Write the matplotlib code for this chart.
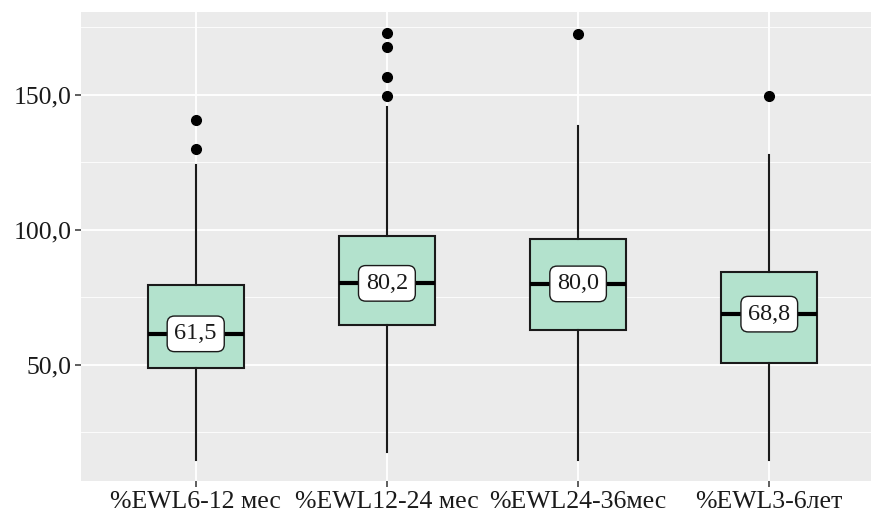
import matplotlib
matplotlib.use("Agg")
import matplotlib.pyplot as plt
from matplotlib.ticker import MultipleLocator, FuncFormatter

categories = ["%EWL6-12 мес", "%EWL12-24 мес", "%EWL24-36мес", "%EWL3-6лет"]
q1_vals = [48.9, 64.8, 63.0, 50.7]
median_vals = [61.5, 80.2, 80.0, 68.8]
q3_vals = [79.6, 97.8, 96.7, 84.4]
whisker_low = [14.8, 17.9, 14.8, 14.8]
whisker_high = [124.1, 145.6, 138.5, 127.8]
outliers = [[140.7, 130.0], [173.0, 167.8, 156.6, 149.6], [172.6], [149.6]]
median_labels = ["61,5", "80,2", "80,0", "68,8"]

plt.rcParams['font.family'] = ['Liberation Serif', 'DejaVu Serif']

fig = plt.figure(figsize=(8.71, 5.15), dpi=100)
ax = fig.add_axes([81/871, 1-481/515, 803/871, 469/515])
ax.set_facecolor('#EBEBEB')

stats = []
for i in range(len(categories)):
    stats.append(dict(med=median_vals[i], q1=q1_vals[i], q3=q3_vals[i],
                      whislo=whisker_low[i], whishi=whisker_high[i],
                      fliers=outliers[i], label=categories[i]))

positions = list(range(1, len(categories) + 1))
ax.bxp(stats, positions=positions, widths=0.5, patch_artist=True, showcaps=False,
       boxprops=dict(facecolor='#B3E2CD', edgecolor='#1a1a1a', linewidth=1.5),
       medianprops=dict(color='black', linewidth=3),
       whiskerprops=dict(color='#1a1a1a', linewidth=1.5),
       flierprops=dict(marker='o', markerfacecolor='black', markeredgecolor='black',
                       markersize=7),
       zorder=3)

for p, m, lab in zip(positions, median_vals, median_labels):
    ax.text(p, m, lab, ha='center', va='center', fontsize=17.5, color='#1a1a1a', zorder=5,
            bbox=dict(boxstyle='round,pad=0.3,rounding_size=0.3', facecolor='white',
                      edgecolor='#1a1a1a', linewidth=1.0))

ax.set_xlim(0.4, 4.6)
ax.set_ylim(7.0, 180.7)
ax.yaxis.set_major_locator(MultipleLocator(50))
ax.yaxis.set_minor_locator(MultipleLocator(25))
ax.yaxis.set_major_formatter(FuncFormatter(lambda v, p: f"{v:.1f}".replace('.', ',')))
ax.set_xticks(positions)
ax.set_xticklabels(categories)

ax.grid(which='major', color='white', linewidth=1.3, zorder=0)
ax.grid(which='minor', axis='y', color='white', linewidth=0.6, zorder=0)
ax.set_axisbelow(True)
for s in ax.spines.values():
    s.set_visible(False)
ax.tick_params(axis='both', which='major', length=4, width=1.1, color='#333333',
               labelsize=18.5, labelcolor='#1a1a1a', pad=3)
ax.tick_params(axis='y', which='minor', length=0)

fig.savefig('out.png', dpi=100, facecolor='white')
